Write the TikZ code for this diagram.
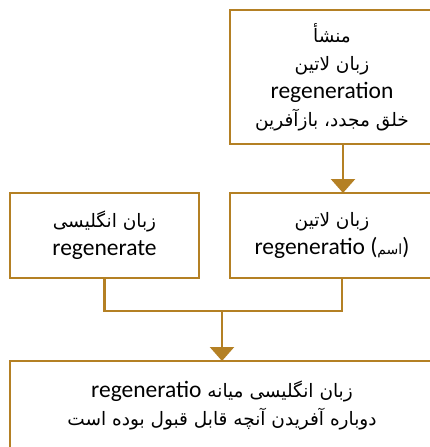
\documentclass[tikz,border=0pt]{standalone}
\usepackage{fontspec}
\setmainfont{Carlito}
\newfontfamily\persianfont[Script=Arabic]{DejaVu Sans}
\TeXXeTstate=1
\usetikzlibrary{positioning,arrows.meta}
\definecolor{gold}{RGB}{180,128,36}
\newcommand{\fatext}[1]{{\persianfont\fontsize{18.5}{28}\selectfont\beginR #1\endR}}
\newcommand{\lat}[1]{\beginL{\rmfamily\fontsize{23.5}{28}\selectfont #1}\endL}
\tikzstyle{box}=[draw=gold, line width=2.5pt, fill=white, align=center,
        outer sep=0pt, inner sep=2pt, font=\fontsize{23.5}{28}\selectfont]
\tikzstyle{wire}=[draw=gold, line width=2.5pt]
\tikzstyle{tip}=[-{Triangle[width=24pt, length=14pt]}]

\begin{document}
\begin{tikzpicture}[x=1pt, y=1pt]
        \useasboundingbox (0,0) rectangle (430,-447);

        \node[box, minimum width=204pt, minimum height=134pt] (1) at (332,-77)
            {\fatext{منشأ}\\ \fatext{زبان لاتین}\\ regeneration\\
            \fatext{خلق مجدد، بازآفرین}};
        \node[box, below=49pt of 1, minimum width=204pt, minimum height=85pt] (2)
            {\fatext{زبان لاتین}\\ regeneratio
            ({\persianfont\fontsize{14}{28}\selectfont اسم})};
        \node[box, left=31pt of 2, minimum width=189pt, minimum height=85pt] (3)
            {\fatext{زبان انگلیسی}\\ regenerate};
        \node[box, below=83pt of 3.south west, anchor=north west,
            minimum width=424pt, minimum height=89pt] (4)
            {\fatext{زبان انگلیسی میانه \lat{regeneratio}}\\
            \fatext{دوباره آفریدن آنچه قابل قبول بوده است}};

        \coordinate[below=33pt of 3.south] (j);

        \draw[wire, tip] ([xshift=11pt]1.south) to ([xshift=11pt]2.north);
        \draw[wire] (3.south) -- (j) -| ([xshift=10pt]2.south);
        \draw[wire, tip] (j -| 4.north) to (4.north);

    \end{tikzpicture}
\end{document}
